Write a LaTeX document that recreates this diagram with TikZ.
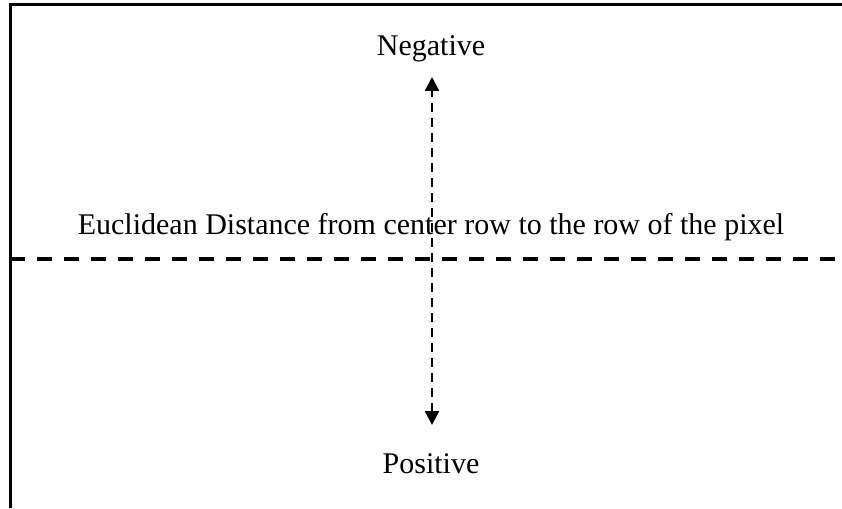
\documentclass[tikz,border=0pt]{standalone}
\usepackage{fontspec}
\setmainfont{Liberation Serif}
\usetikzlibrary{arrows.meta, positioning}

\begin{document}
\begin{tikzpicture}[x=1pt, y=-1pt,
            every node/.style={font=\fontsize{30}{34}\selectfont, inner sep=0pt, anchor=base},
            frame/.style={line width=3pt, color=black},
            rowline/.style={dash pattern=on 15pt off 12pt, line width=3.6pt},
            dirarrow/.style={{Triangle[length=14pt, width=14pt]}-{Triangle[length=14pt, width=14pt]}, dash pattern=on 9pt off 6pt, line width=2.4pt}
        ]
        \useasboundingbox (0, 0) rectangle (842, 508);

        % open frame, left and top
        \draw[frame] (10, 508) -- (10, 5) -- (842, 5);

        \node (neg) at (431, 56) {Negative};
        \node (dist) at (431, 234) {Euclidean Distance from center row to the row of the pixel};
        \node (pos) at (431, 473) {Positive};

        \coordinate (rowL) at (10, 259);
        \coordinate (rowR) at (842, 259);
        \coordinate (up) at (432, 77);
        \coordinate (down) at (432, 425);

        \draw[rowline] (rowL) -- (rowR);
        \draw[dirarrow] (down) -- (up);

        \end{tikzpicture}
\end{document}
